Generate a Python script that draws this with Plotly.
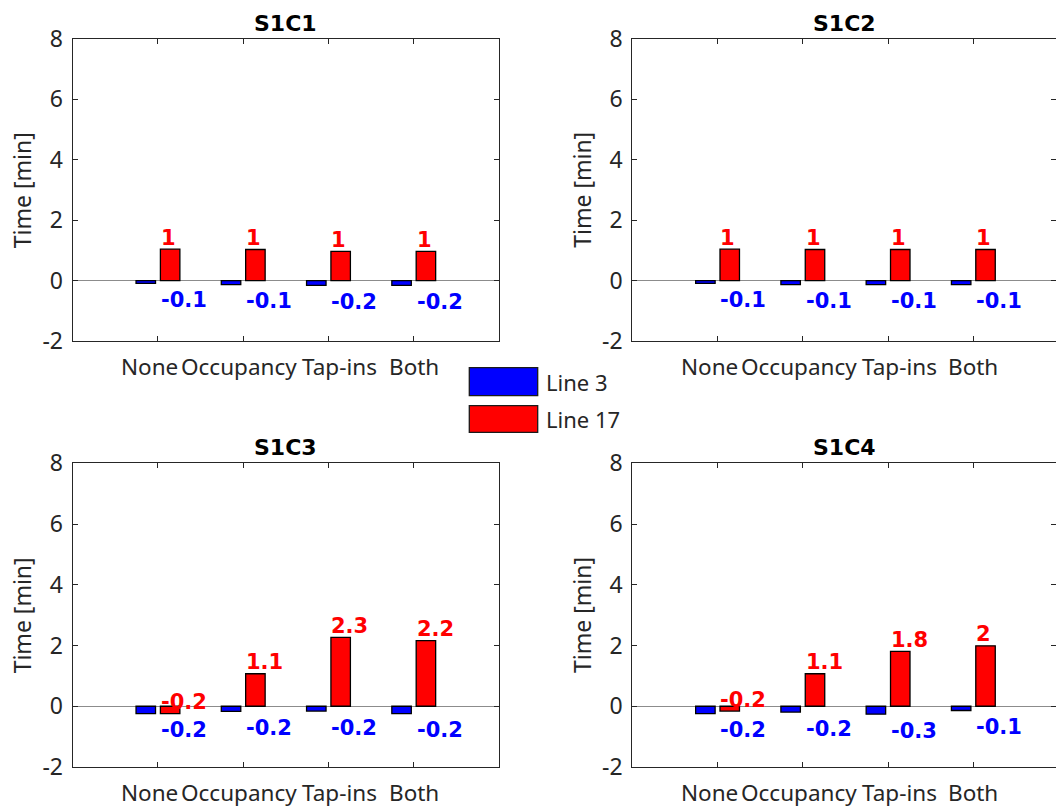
import plotly.graph_objects as go

# ---- data -------------------------------------------------------------
categories = ["None", "Occupancy", "Tap-ins", "Both"]
panel_titles = ["S1C1", "S1C2", "S1C3", "S1C4"]
series_names = ["Line 3", "Line 17"]

line3_s1c1 = [-0.09, -0.13, -0.16, -0.16]
line17_s1c1 = [1.04, 1.03, 0.97, 0.97]

line3_s1c2 = [-0.09, -0.13, -0.13, -0.13]
line17_s1c2 = [1.04, 1.03, 1.03, 1.03]

line3_s1c3 = [-0.24, -0.17, -0.16, -0.24]
line17_s1c3 = [-0.24, 1.07, 2.27, 2.16]

line3_s1c4 = [-0.24, -0.19, -0.26, -0.14]
line17_s1c4 = [-0.16, 1.07, 1.81, 1.99]

y_ticks = [-2, 0, 2, 4, 6, 8]
y_tick_labels = ["-2", "0", "2", "4", "6", "8"]

panels = [
    (line3_s1c1, line17_s1c1),
    (line3_s1c2, line17_s1c2),
    (line3_s1c3, line17_s1c3),
    (line3_s1c4, line17_s1c4),
]

# ---- geometry / style -------------------------------------------------
W, H = 1056, 809
FONT = "Noto Sans"          # regular text
BOLD_FONT = "DejaVu Sans"   # titles and value labels
AX_COLOR = "#262626"
BLUE = "#0000FF"
RED = "#FF0000"

cols = [(72.7, 499.0), (632.3, 1056.0)]
rows = [(39.0, 341.0), (463.3, 767.0)]
unit_px = 426.3 / 5.0  # pixels per category step
# small horizontal nudges (px) so the long category names don't collide
cat_label_shift = [-8, -4, 11, 0]


def fmt(v):
    return "{:g}".format(round(v, 1))


fig = go.Figure()
annotations = []
layout_axes = {}

for i, (blue_vals, red_vals) in enumerate(panels):
    r, c = divmod(i, 2)
    left, right = cols[c]
    top, bottom = rows[r]
    n = "" if i == 0 else str(i + 1)
    xa, ya = "x" + n, "y" + n

    x_pos = list(range(1, len(categories) + 1))
    fig.add_trace(go.Bar(x=x_pos, y=blue_vals, name=series_names[0],
                         marker=dict(color=BLUE, line=dict(color="black", width=1.3)),
                         xaxis=xa, yaxis=ya, showlegend=False, offsetgroup="a"))
    fig.add_trace(go.Bar(x=x_pos, y=red_vals, name=series_names[1],
                         marker=dict(color=RED, line=dict(color="black", width=1.3)),
                         xaxis=xa, yaxis=ya, showlegend=False, offsetgroup="b"))

    layout_axes["xaxis" + n] = dict(
        domain=[left / W, right / W],
        range=[0, (right - left) / unit_px],
        anchor=ya,
        tickvals=x_pos, showticklabels=False,
        ticks="inside", ticklen=5, tickwidth=1, tickcolor=AX_COLOR,
        showline=True, linecolor=AX_COLOR, linewidth=1.3, mirror="ticks",
        showgrid=False, zeroline=False, automargin=False,
    )
    layout_axes["yaxis" + n] = dict(
        domain=[1 - bottom / H, 1 - top / H],
        range=[-2, 8],
        anchor=xa,
        tickvals=y_ticks, ticktext=y_tick_labels,
        ticks="inside", ticklen=5, tickwidth=1, tickcolor=AX_COLOR,
        showline=True, linecolor=AX_COLOR, linewidth=1.3, mirror="ticks",
        showgrid=False, automargin=False,
        zeroline=True, zerolinecolor="#8c8c8c", zerolinewidth=1,
        tickfont=dict(family=FONT, size=23, color=AX_COLOR),
        ticklabelstandoff=4,
    )

    # category labels under the axis
    for k, xv in enumerate(x_pos):
        annotations.append(dict(
            text=categories[k], xref=xa, yref="paper",
            x=xv, y=1 - bottom / H, xshift=cat_label_shift[k], yshift=-9,
            xanchor="center", yanchor="top", showarrow=False, borderpad=0,
            font=dict(family=FONT, size=22.5, color=AX_COLOR),
        ))

    # panel title
    annotations.append(dict(
        text=panel_titles[i], xref="paper", yref="paper",
        x=(left + min(right, left + 426.3)) / 2 / W, y=1 - top / H,
        xanchor="center", yanchor="bottom", yshift=1, showarrow=False,
        font=dict(family=BOLD_FONT, size=22, color="black", weight="bold"),
    ))
    # y axis title
    annotations.append(dict(
        text="Time [min]", xref="paper", yref="paper",
        x=(left - 50.5) / W, y=1 - (top + bottom) / 2 / H,
        xanchor="center", yanchor="middle", textangle=-90, showarrow=False,
        font=dict(family=FONT, size=23, color=AX_COLOR),
    ))
    # value labels
    for k, xv in enumerate(x_pos):
        annotations.append(dict(
            text=fmt(red_vals[k]), xref=xa, yref=ya,
            x=xv + 0.01, y=red_vals[k] + 0.38,
            xanchor="left", yanchor="middle", showarrow=False,
            font=dict(family=BOLD_FONT, size=21, color=RED, weight="bold"),
        ))
        annotations.append(dict(
            text=fmt(blue_vals[k]), xref=xa, yref=ya,
            x=xv + 0.01, y=blue_vals[k] - 0.55,
            xanchor="left", yanchor="middle", showarrow=False,
            font=dict(family=BOLD_FONT, size=21, color=BLUE, weight="bold"),
        ))

# legend drawn as boxes with labels
legend_rows = [(BLUE, series_names[0], 367.7, 395.7), (RED, series_names[1], 405.7, 432.3)]
shapes = []
for color, label, y0, y1 in legend_rows:
    shapes.append(dict(type="rect", xref="paper", yref="paper",
                       x0=469.3 / W, x1=537.7 / W, y0=1 - y1 / H, y1=1 - y0 / H,
                       fillcolor=color, line=dict(color="#1a1a1a", width=1.3)))
    annotations.append(dict(
        text=label, xref="paper", yref="paper",
        x=544 / W, y=1 - (y0 + y1) / 2 / H,
        xanchor="left", yanchor="middle", showarrow=False,
        font=dict(family=FONT, size=22, color=AX_COLOR),
    ))

fig.update_layout(
    width=W, height=H,
    margin=dict(l=0, r=0, t=0, b=0),
    paper_bgcolor="white", plot_bgcolor="white",
    barmode="group", bargap=3 / 7, bargroupgap=0.2,
    annotations=annotations, shapes=shapes,
    showlegend=False,
    **layout_axes,
)

fig.write_html("out.html")
